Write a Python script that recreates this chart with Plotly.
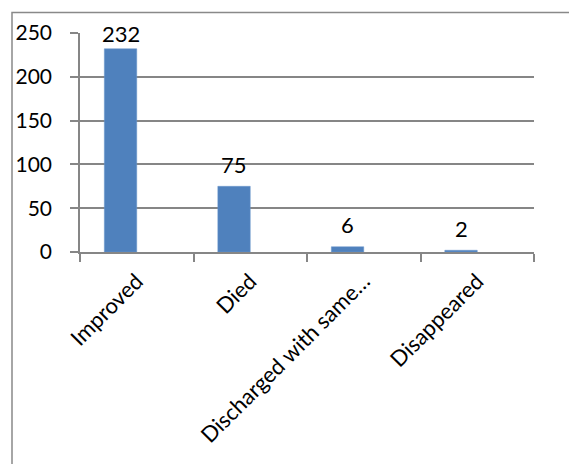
import plotly.graph_objects as go

categories = ["Improved", "Died", "Discharged with same\u2026", "Disappeared"]
values = [232, 75, 6, 2]
empty_series = [None, None, None, None]
y_ticks = [0, 50, 100, 150, 200, 250]

BARGAP = 1.5 / 3.5
FONT = "Lato"
W, H = 577, 464
PAGE = 8  # default body margin of the html page
# plot area in window pixels
X0, X1, Y0, Y1 = 80, 534, 32.5, 252.5
L, R, T, B = X0 - PAGE, W - (X1 - PAGE), Y0 - PAGE, H - (Y1 - PAGE)
pw, ph = X1 - X0, Y1 - Y0

fig = go.Figure()
fig.add_trace(go.Bar(x=categories, y=values, marker=dict(color="#4F81BD", line=dict(color="#6B96CC", width=0.5)), showlegend=False))
fig.add_trace(go.Bar(x=categories, y=empty_series, showlegend=False))

offset = -(1 - BARGAP) / 4
for i, v in enumerate(values):
    fig.add_annotation(x=i + offset, y=v, text=str(v), showarrow=False,
                       yshift=15 if v > 220 else 22, font=dict(family=FONT, size=22, color="#000000"))

# outer chart border (window px 12,12 to beyond bottom-right)
fig.add_shape(type="rect", xref="paper", yref="paper",
              x0=(12 - X0) / pw, x1=(W + 20 - X0) / pw,
              y0=(Y1 - (H + 20)) / ph, y1=(Y1 - 12) / ph,
              line=dict(color="#898989", width=1.5), layer="below")

fig.update_layout(
    width=W, height=H,
    margin=dict(l=L, r=R, t=T, b=B, autoexpand=False),
    plot_bgcolor="white", paper_bgcolor="white",
    barmode="group", bargap=BARGAP, bargroupgap=0,
    font=dict(family=FONT, size=22, color="#000000"),
    xaxis=dict(showline=True, linecolor="#868686", linewidth=1.5, ticks="outside",
               tickson="boundaries", ticklen=8, tickcolor="#868686", tickwidth=1.5,
               tickangle=-45, tickfont=dict(family=FONT, size=22), showgrid=False,
               ticklabelstandoff=6, automargin=False),
    yaxis=dict(range=[0, 250], tickvals=y_ticks, showline=True, linecolor="#868686", linewidth=1.5,
               ticks="outside", ticklen=8, tickcolor="#868686", tickwidth=1.5,
               showgrid=True, gridcolor="#868686", gridwidth=1.5, zeroline=False,
               tickfont=dict(family=FONT, size=21), ticklabelstandoff=14, automargin=False),
)
fig.write_html("out.html")
